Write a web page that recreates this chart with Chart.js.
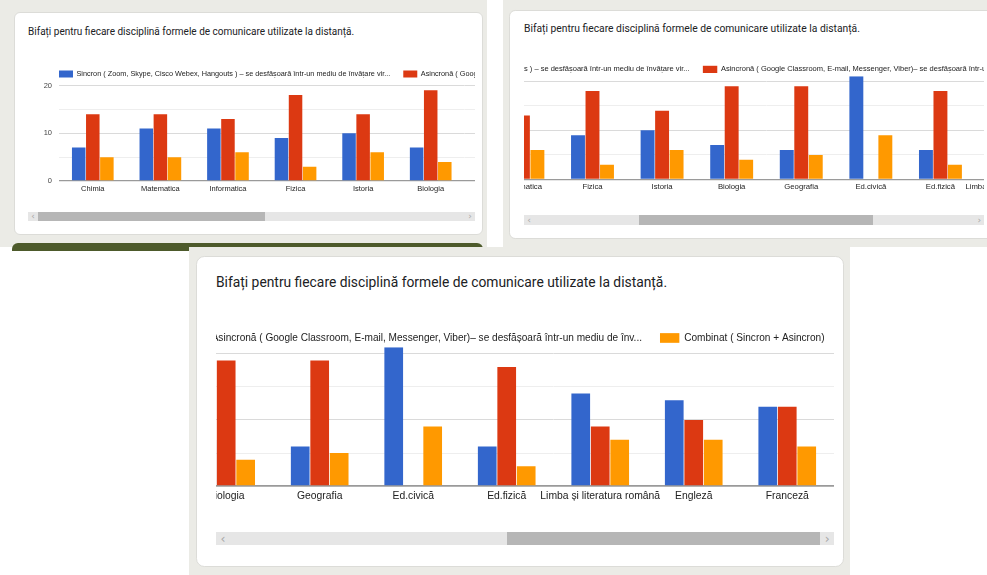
<!DOCTYPE html>
<html>
<head>
<meta charset="utf-8">
<script src="https://cdn.jsdelivr.net/npm/chart.js@4.4.1/dist/chart.umd.min.js"></script>
<style>
  html, body { margin: 0; padding: 0; background: #fff; }
  body { width: 987px; height: 575px; position: relative; overflow: hidden; }
  .shot { position: absolute; background: #ebebe6; }
  .card { position: absolute; background: #fff; border: 1px solid #dcdcd8; box-sizing: border-box; }
  .title { position: absolute; font-family: Roboto, "Noto Sans", sans-serif; color: #202124; white-space: nowrap; line-height: 1; }
  .view { position: absolute; overflow: hidden; }
  .view canvas { position: absolute; top: 0; }
  .track { position: absolute; background: #e6e6e6; }
  .thumb { position: absolute; top: 0; height: 100%; background: #b6b6b6; }
  .arr { position: absolute; top: 0; height: 100%; color: #a8a8a8; font-family: "DejaVu Sans", sans-serif; text-align: center; }
</style>
</head>
<body>
<script>
const title = "Bifați pentru fiecare disciplină formele de comunicare utilizate la distanță.";
const categories = ["Chimia", "Matematica", "Informatica", "Fizica", "Istoria", "Biologia",
  "Geografia", "Ed.civică", "Ed.fizică", "Limba și literatura română", "Engleză", "Franceză"];
const seriesNames = [
  "Sincron ( Zoom, Skype, Cisco Webex, Hangouts ) – se desfășoară într-un mediu de învățare vir...",
  "Asincronă ( Google Classroom, E-mail, Messenger, Viber)– se desfășoară într-un mediu de înv...",
  "Combinat ( Sincron + Asincron)"
];
const sincron  = [7, 11, 11, 9, 10, 7, 6, 21, 6, 14, 13, 12];
const asincron = [14, 14, 13, 18, 14, 19, 19, 0, 18, 9, 10, 12];
const combinat = [5, 5, 6, 3, 6, 4, 5, 9, 3, 7, 7, 6];
const yTicks = [0, 10, 20];
const colors = ["#3366cc", "#dc3912", "#ff9900"];

const FONT = '"Liberation Sans", Arial, sans-serif';
const LFS = 7.3; // legend font size at k = 1

// three screenshots of the same google forms chart, scrolled to different places
const panels = [
  { bg: [0, 0, 487, 247], card: [14, 12, 483, 235], tx: 28, ty: 32, k: 1.0, vx: 28, by: 180.8, scroll: 0, sb: 31 },
  { bg: [503, 0, 987, 247], card: [509, 10, 995, 239], tx: 524, ty: 29, k: 1.03, vx: 524, by: 180, scroll: 200.8, sb: 33.7 },
  { bg: [189, 247, 850, 575], card: [196, 256, 844, 567], tx: 216, ty: 283.3, k: 1.383, vx: 216, by: 485.7, scroll: 395.2, sb: 33.4 }
];

// base geometry (k = 1)
const AXW = 31, STEP = 67.6, CW = AXW + STEP * categories.length, CH = 138, BASE = 120, VW = 447;

const gLegend = {
  id: "gLegend",
  afterDraw(chart, args, opts) {
    const k = opts.k, ctx = chart.ctx;
    ctx.save();
    ctx.font = (LFS * k) + "px " + FONT;
    ctx.textBaseline = "middle";
    let x = chart.chartArea.left;
    const y = 13 * k;
    chart.data.datasets.forEach(ds => {
      ctx.fillStyle = ds.backgroundColor;
      ctx.fillRect(x, y - 3.5 * k, 14 * k, 7 * k);
      x += 17.5 * k;
      ctx.fillStyle = "#222";
      ctx.fillText(ds.label, x, y);
      x += ctx.measureText(ds.label).width + 13 * k;
    });
    ctx.restore();
  }
};

function div(cls, l, t, w, h, parent) {
  const d = document.createElement("div");
  d.className = cls;
  Object.assign(d.style, { left: l + "px", top: t + "px", width: w + "px", height: h + "px" });
  (parent || document.body).appendChild(d);
  return d;
}

function drawPanel(p) {
  const k = p.k;
  div("shot", p.bg[0], p.bg[1], p.bg[2] - p.bg[0], p.bg[3] - p.bg[1]);
  if (p === panels[0]) {
    const bar = div("shot", 12, 243, 471, 8);
    bar.style.background = "#4d5a2b";
    bar.style.borderRadius = "6px 6px 0 0";
  }
  const c = div("card", p.card[0], p.card[1], p.card[2] - p.card[0], p.card[3] - p.card[1]);
  c.style.borderRadius = (6 * k) + "px";

  const t = div("title", p.tx, p.ty - 5.3 * k, 600, 12 * k);
  t.style.fontSize = (10 * k) + "px";
  t.textContent = title;

  const top = p.by - BASE * k;
  const view = div("view", p.vx, top, VW * k, CH * k);
  const cv = document.createElement("canvas");
  cv.width = Math.round(CW * k);
  cv.height = Math.round(CH * k);
  cv.style.left = (-p.scroll * k) + "px";
  view.appendChild(cv);

  new Chart(cv, {
    type: "bar",
    data: {
      labels: categories,
      datasets: [
        { label: seriesNames[0], data: sincron, backgroundColor: colors[0] },
        { label: seriesNames[1], data: asincron, backgroundColor: colors[1] },
        { label: seriesNames[2], data: combinat, backgroundColor: colors[2] }
      ]
    },
    plugins: [gLegend],
    options: {
      responsive: false,
      animation: false,
      layout: { padding: { top: (BASE - 21 * 4.775) * k, left: 0, right: 0, bottom: 0 } },
      datasets: { bar: { categoryPercentage: 0.625, barPercentage: 0.96 } },
      plugins: { legend: { display: false }, tooltip: { enabled: false }, gLegend: { k: k } },
      scales: {
        x: {
          grid: { display: false, drawTicks: false },
          border: { display: false },
          ticks: { font: { family: FONT, size: 7.5 * k }, color: "#222", padding: 3 * k, autoSkip: false, maxRotation: 0 },
          afterFit: s => { s.height = (CH - BASE) * k; }
        },
        y: {
          min: 0, max: 21,
          border: { display: false },
          grid: {
            drawTicks: false,
            color: g => g.tick.value === 0 ? "#9a9a9a" : (g.tick.value % 10 === 0 ? "#dadada" : "#eeeeee"),
            lineWidth: g => g.tick.value === 0 ? 1.3 * k : 1
          },
          ticks: {
            stepSize: 5, includeBounds: false,
            callback: v => yTicks.includes(v) ? v : "",
            font: { family: FONT, size: 7.5 * k }, color: "#444", padding: 7 * k
          },
          afterFit: s => { s.width = AXW * k; }
        }
      }
    }
  });

  // horizontal scrollbar under the chart
  const tr = div("track", p.vx, p.by + p.sb * k, VW * k, 9.6 * k);
  const inner = VW - 20;
  div("thumb", (10 + p.scroll / CW * inner) * k, 0, VW / CW * inner * k, 9.6 * k, tr);
  const a1 = div("arr", 0, 0, 10 * k, 9.6 * k, tr), a2 = div("arr", (VW - 10) * k, 0, 10 * k, 9.6 * k, tr);
  [a1, a2].forEach((a, i) => {
    a.textContent = i ? "›" : "‹";
    a.style.fontSize = (9 * k) + "px";
    a.style.lineHeight = (9.6 * k) + "px";
  });
}

panels.forEach(drawPanel);
</script>
</body>
</html>
